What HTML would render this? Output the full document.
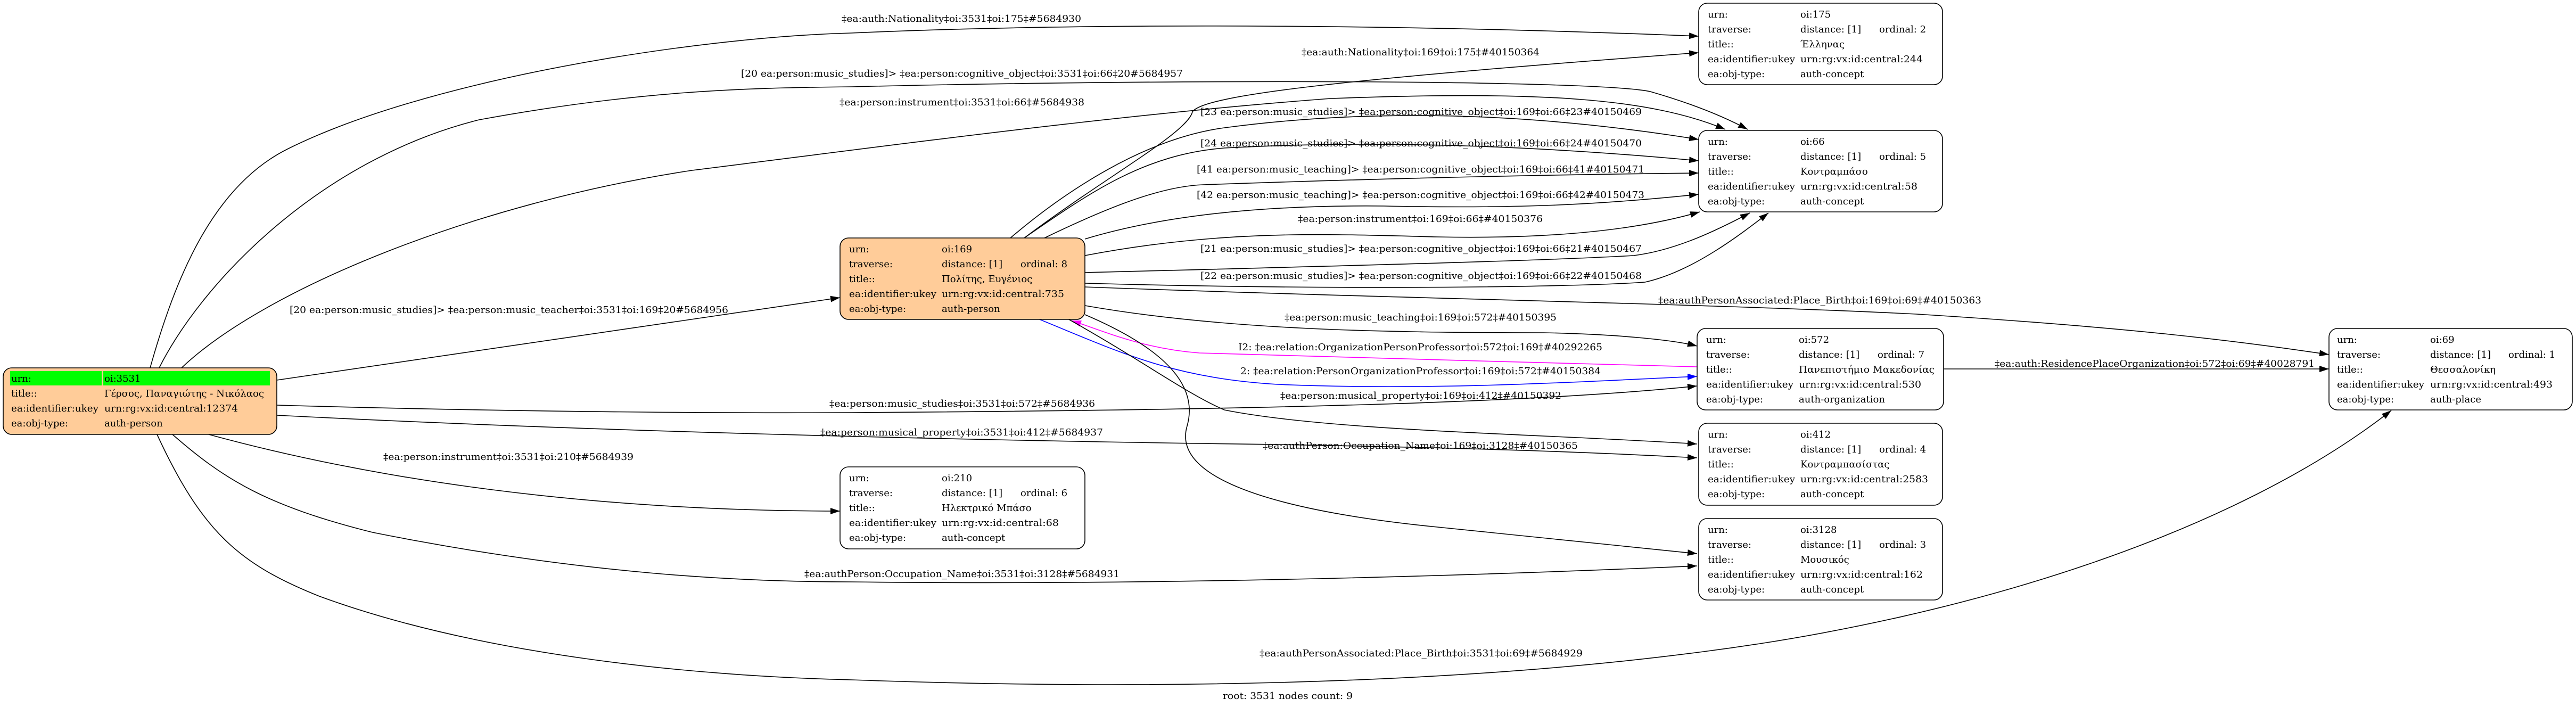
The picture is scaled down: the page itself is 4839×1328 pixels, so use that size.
<!DOCTYPE html>
<html><head><meta charset="utf-8"><style>
html,body{margin:0;padding:0;background:#fff;}
svg{display:block;}
text{font-family:"DejaVu Serif","Liberation Serif",serif;font-size:18px;fill:#000;}
.e{fill:none;stroke:#000;stroke-width:1.6;}
.n{stroke:#000;stroke-width:1.6;}
</style></head><body>
<svg width="4839" height="1328" viewBox="0 0 4839 1328" xmlns="http://www.w3.org/2000/svg">
<defs>
<marker id="a" markerUnits="userSpaceOnUse" markerWidth="20" markerHeight="14" refX="18" refY="6" orient="auto"><path d="M0,0 L18,6 L0,12 z" fill="#000"/></marker>
<marker id="am" markerUnits="userSpaceOnUse" markerWidth="20" markerHeight="14" refX="18" refY="6" orient="auto"><path d="M0,0 L18,6 L0,12 z" fill="#f0f"/></marker>
<marker id="ab" markerUnits="userSpaceOnUse" markerWidth="20" markerHeight="14" refX="18" refY="6" orient="auto"><path d="M0,0 L18,6 L0,12 z" fill="#00f"/></marker>
</defs>

<!-- edges from 3531 -->
<path class="e" marker-end="url(#a)" d="M282,691 C330,520 400,350 540,280 C800,150 1300,70 1600,62 C2100,40 2700,48 3191,68"/>
<path class="e" marker-end="url(#a)" d="M299,691 C380,530 600,300 900,225 C1200,170 1400,165 1600,163 C2200,148 3000,150 3100,172 C3180,195 3240,220 3283,243"/>
<path class="e" marker-end="url(#a)" d="M341,691 C500,540 900,380 1300,320 C1700,270 2100,215 2500,185 C2900,170 3100,185 3241,243"/>
<path class="e" marker-end="url(#a)" d="M520,714 L1578,559"/>
<path class="e" marker-end="url(#a)" d="M520,761 C1000,775 1400,776 1600,775 C2400,770 2900,755 3188,725"/>
<path class="e" marker-end="url(#a)" d="M520,780 C1200,815 2000,830 2400,835 C2800,842 3000,850 3188,860"/>
<path class="e" marker-end="url(#a)" d="M392,816 C700,900 1100,960 1578,960"/>
<path class="e" marker-end="url(#a)" d="M324,816 C420,900 500,950 700,1000 C1100,1080 1400,1093 1600,1093 C2200,1100 2800,1080 3188,1063"/>
<path class="e" marker-end="url(#a)" d="M295,816 C380,1000 450,1060 600,1120 C900,1230 1300,1270 1600,1277 C2100,1295 2700,1290 3200,1224 C3700,1160 4200,1000 4492,771"/>

<!-- edges from 169 -->
<path class="e" marker-end="url(#a)" d="M1924,447 C2080,330 2230,250 2240,210 C2260,180 2500,150 3191,99"/>
<path class="e" marker-end="url(#a)" d="M1898,447 C2000,360 2150,260 2300,240 C2600,200 2900,215 3191,262"/>
<path class="e" marker-end="url(#a)" d="M1924,447 C2050,360 2150,290 2300,278 C2600,262 2900,275 3191,302"/>
<path class="e" marker-end="url(#a)" d="M1962,447 C2080,390 2180,350 2260,347 C2600,335 2900,328 3191,325"/>
<path class="e" marker-end="url(#a)" d="M2038,449 C2200,400 2400,385 2600,387 C2850,392 3000,385 3191,365"/>
<path class="e" marker-end="url(#a)" d="M2038,480 C2300,430 2500,440 2700,445 C2950,450 3100,425 3193,398"/>
<path class="e" marker-end="url(#a)" d="M2038,512 C2500,500 2900,490 3069,480 C3150,470 3230,430 3287,400"/>
<path class="e" marker-end="url(#a)" d="M2038,532 C2500,545 2950,540 3090,530 C3180,510 3270,440 3322,400"/>
<path class="e" marker-end="url(#a)" d="M2038,539 C2600,560 3200,570 3600,590 C4000,615 4200,640 4375,666"/>
<path class="e" marker-end="url(#a)" d="M2038,574 C2300,620 2600,625 2900,625 C3050,628 3150,640 3188,650"/>
<path class="e" style="stroke:#f0f" marker-end="url(#am)" d="M3188,689 C2900,680 2400,670 2253,663 C2150,655 2080,625 2013,602"/>
<path class="e" style="stroke:#00f" marker-end="url(#ab)" d="M1953,600 C2100,660 2200,710 2400,722 C2700,735 3000,715 3188,707"/>
<path class="e" marker-end="url(#a)" d="M2008,600 C2150,680 2230,740 2300,770 C2500,810 2900,815 3188,834"/>
<path class="e" marker-end="url(#a)" d="M2038,591 C2200,660 2250,730 2230,800 C2200,900 2400,960 2700,990 C2900,1010 3050,1025 3188,1040"/>
<path class="e" marker-end="url(#a)" d="M3651,693 L4375,693"/>

<!-- edge labels -->
<g>
<text x="1581" y="41" textLength="450" lengthAdjust="spacingAndGlyphs">‡ea:auth:Nationality‡oi:3531‡oi:175‡#5684930</text>
<text x="2445" y="104" textLength="447" lengthAdjust="spacingAndGlyphs">‡ea:auth:Nationality‡oi:169‡oi:175‡#40150364</text>
<text x="1392" y="144" textLength="830" lengthAdjust="spacingAndGlyphs">[20 ea:person:music_studies]&gt; ‡ea:person:cognitive_object‡oi:3531‡oi:66‡20#5684957</text>
<text x="1577" y="198" textLength="460" lengthAdjust="spacingAndGlyphs">‡ea:person:instrument‡oi:3531‡oi:66‡#5684938</text>
<text x="2255" y="216" textLength="829" lengthAdjust="spacingAndGlyphs">[23 ea:person:music_studies]&gt; ‡ea:person:cognitive_object‡oi:169‡oi:66‡23#40150469</text>
<text x="2255" y="275" textLength="829" lengthAdjust="spacingAndGlyphs">[24 ea:person:music_studies]&gt; ‡ea:person:cognitive_object‡oi:169‡oi:66‡24#40150470</text>
<text x="2248" y="324" textLength="841" lengthAdjust="spacingAndGlyphs">[41 ea:person:music_teaching]&gt; ‡ea:person:cognitive_object‡oi:169‡oi:66‡41#40150471</text>
<text x="2248" y="372" textLength="841" lengthAdjust="spacingAndGlyphs">[42 ea:person:music_teaching]&gt; ‡ea:person:cognitive_object‡oi:169‡oi:66‡42#40150473</text>
<text x="2438" y="417" textLength="460" lengthAdjust="spacingAndGlyphs">‡ea:person:instrument‡oi:169‡oi:66‡#40150376</text>
<text x="2255" y="473" textLength="829" lengthAdjust="spacingAndGlyphs">[21 ea:person:music_studies]&gt; ‡ea:person:cognitive_object‡oi:169‡oi:66‡21#40150467</text>
<text x="2255" y="524" textLength="829" lengthAdjust="spacingAndGlyphs">[22 ea:person:music_studies]&gt; ‡ea:person:cognitive_object‡oi:169‡oi:66‡22#40150468</text>
<text x="3115" y="570" textLength="607" lengthAdjust="spacingAndGlyphs">‡ea:authPersonAssociated:Place_Birth‡oi:169‡oi:69‡#40150363</text>
<text x="544" y="588" textLength="824" lengthAdjust="spacingAndGlyphs">[20 ea:person:music_studies]&gt; ‡ea:person:music_teacher‡oi:3531‡oi:169‡20#5684956</text>
<text x="2413" y="602" textLength="511" lengthAdjust="spacingAndGlyphs">‡ea:person:music_teaching‡oi:169‡oi:572‡#40150395</text>
<text x="2326" y="658" textLength="684" lengthAdjust="spacingAndGlyphs">I2: ‡ea:relation:OrganizationPersonProfessor‡oi:572‡oi:169‡#40292265</text>
<text x="3747" y="689" textLength="601" lengthAdjust="spacingAndGlyphs">‡ea:auth:ResidencePlaceOrganization‡oi:572‡oi:69‡#40028791</text>
<text x="2330" y="703" textLength="677" lengthAdjust="spacingAndGlyphs">2: ‡ea:relation:PersonOrganizationProfessor‡oi:169‡oi:572‡#40150384</text>
<text x="2405" y="749" textLength="528" lengthAdjust="spacingAndGlyphs">‡ea:person:musical_property‡oi:169‡oi:412‡#40150392</text>
<text x="1558" y="764" textLength="499" lengthAdjust="spacingAndGlyphs">‡ea:person:music_studies‡oi:3531‡oi:572‡#5684936</text>
<text x="1541" y="818" textLength="531" lengthAdjust="spacingAndGlyphs">‡ea:person:musical_property‡oi:3531‡oi:412‡#5684937</text>
<text x="2372" y="843" textLength="592" lengthAdjust="spacingAndGlyphs">‡ea:authPerson:Occupation_Name‡oi:169‡oi:3128‡#40150365</text>
<text x="720" y="864" textLength="470" lengthAdjust="spacingAndGlyphs">‡ea:person:instrument‡oi:3531‡oi:210‡#5684939</text>
<text x="1511" y="1084" textLength="592" lengthAdjust="spacingAndGlyphs">‡ea:authPerson:Occupation_Name‡oi:3531‡oi:3128‡#5684931</text>
<text x="2366" y="1233" textLength="607" lengthAdjust="spacingAndGlyphs">‡ea:authPersonAssociated:Place_Birth‡oi:3531‡oi:69‡#5684929</text>
<text x="2297" y="1313" textLength="244" lengthAdjust="spacingAndGlyphs">root: 3531 nodes count: 9</text>
</g>

<!-- node 3531 -->
<rect class="n" x="6" y="691" width="514" height="125" rx="16" fill="#ffcc99"/>
<rect x="19" y="697" width="172" height="27" fill="#00ff00"/>
<rect x="194" y="697" width="313" height="27" fill="#00ff00"/>
<text x="21" y="717">urn:</text><text x="196" y="717">oi:3531</text>
<text x="21" y="745">title::</text><text x="196" y="745" textLength="300" lengthAdjust="spacingAndGlyphs">Γέρσος, Παναγιώτης - Νικόλαος</text>
<text x="21" y="773" textLength="164" lengthAdjust="spacingAndGlyphs">ea:identifier:ukey</text><text x="196" y="773" textLength="251" lengthAdjust="spacingAndGlyphs">urn:rg:vx:id:central:12374</text>
<text x="21" y="801">ea:obj-type:</text><text x="196" y="801">auth-person</text>

<!-- node 169 -->
<rect class="n" x="1578" y="447" width="460" height="153" rx="16" fill="#ffcc99"/>
<g transform="translate(1578,447)">
<text x="17" y="27">urn:</text><text x="191" y="27">oi:169</text>
<text x="17" y="55">traverse:</text><text x="191" y="55">distance: [1]</text><text x="339" y="55">ordinal: 8</text>
<text x="17" y="83">title::</text><text x="191" y="83">Πολίτης, Ευγένιος</text>
<text x="17" y="111" textLength="164" lengthAdjust="spacingAndGlyphs">ea:identifier:ukey</text><text x="191" y="111" textLength="230" lengthAdjust="spacingAndGlyphs">urn:rg:vx:id:central:735</text>
<text x="17" y="139">ea:obj-type:</text><text x="191" y="139">auth-person</text>
</g>

<!-- node 210 -->
<rect class="n" x="1578" y="877" width="460" height="154" rx="16" fill="#fff"/>
<g transform="translate(1578,877)">
<text x="17" y="27">urn:</text><text x="191" y="27">oi:210</text>
<text x="17" y="55">traverse:</text><text x="191" y="55">distance: [1]</text><text x="339" y="55">ordinal: 6</text>
<text x="17" y="83">title::</text><text x="191" y="83">Ηλεκτρικό Μπάσο</text>
<text x="17" y="111" textLength="164" lengthAdjust="spacingAndGlyphs">ea:identifier:ukey</text><text x="191" y="111" textLength="220" lengthAdjust="spacingAndGlyphs">urn:rg:vx:id:central:68</text>
<text x="17" y="139">ea:obj-type:</text><text x="191" y="139">auth-concept</text>
</g>

<!-- node 175 -->
<rect class="n" x="3191" y="6" width="458" height="153" rx="16" fill="#fff"/>
<g transform="translate(3191,6)">
<text x="17" y="27">urn:</text><text x="191" y="27">oi:175</text>
<text x="17" y="55">traverse:</text><text x="191" y="55">distance: [1]</text><text x="339" y="55">ordinal: 2</text>
<text x="17" y="83">title::</text><text x="191" y="83">Έλληνας</text>
<text x="17" y="111" textLength="164" lengthAdjust="spacingAndGlyphs">ea:identifier:ukey</text><text x="191" y="111" textLength="230" lengthAdjust="spacingAndGlyphs">urn:rg:vx:id:central:244</text>
<text x="17" y="139">ea:obj-type:</text><text x="191" y="139">auth-concept</text>
</g>

<!-- node 66 -->
<rect class="n" x="3191" y="245" width="458" height="153" rx="16" fill="#fff"/>
<g transform="translate(3191,245)">
<text x="17" y="27">urn:</text><text x="191" y="27">oi:66</text>
<text x="17" y="55">traverse:</text><text x="191" y="55">distance: [1]</text><text x="339" y="55">ordinal: 5</text>
<text x="17" y="83">title::</text><text x="191" y="83">Κοντραμπάσο</text>
<text x="17" y="111" textLength="164" lengthAdjust="spacingAndGlyphs">ea:identifier:ukey</text><text x="191" y="111" textLength="220" lengthAdjust="spacingAndGlyphs">urn:rg:vx:id:central:58</text>
<text x="17" y="139">ea:obj-type:</text><text x="191" y="139">auth-concept</text>
</g>

<!-- node 572 -->
<rect class="n" x="3188" y="617" width="463" height="153" rx="16" fill="#fff"/>
<g transform="translate(3188,617)">
<text x="17" y="27">urn:</text><text x="191" y="27">oi:572</text>
<text x="17" y="55">traverse:</text><text x="191" y="55">distance: [1]</text><text x="339" y="55">ordinal: 7</text>
<text x="17" y="83">title::</text><text x="191" y="83" textLength="255" lengthAdjust="spacingAndGlyphs">Πανεπιστήμιο Μακεδονίας</text>
<text x="17" y="111" textLength="164" lengthAdjust="spacingAndGlyphs">ea:identifier:ukey</text><text x="191" y="111" textLength="230" lengthAdjust="spacingAndGlyphs">urn:rg:vx:id:central:530</text>
<text x="17" y="139">ea:obj-type:</text><text x="191" y="139">auth-organization</text>
</g>

<!-- node 412 -->
<rect class="n" x="3191" y="795" width="458" height="154" rx="16" fill="#fff"/>
<g transform="translate(3191,795)">
<text x="17" y="27">urn:</text><text x="191" y="27">oi:412</text>
<text x="17" y="55">traverse:</text><text x="191" y="55">distance: [1]</text><text x="339" y="55">ordinal: 4</text>
<text x="17" y="83">title::</text><text x="191" y="83">Κοντραμπασίστας</text>
<text x="17" y="111" textLength="164" lengthAdjust="spacingAndGlyphs">ea:identifier:ukey</text><text x="191" y="111" textLength="240" lengthAdjust="spacingAndGlyphs">urn:rg:vx:id:central:2583</text>
<text x="17" y="139">ea:obj-type:</text><text x="191" y="139">auth-concept</text>
</g>

<!-- node 3128 -->
<rect class="n" x="3191" y="974" width="458" height="153" rx="16" fill="#fff"/>
<g transform="translate(3191,974)">
<text x="17" y="27">urn:</text><text x="191" y="27">oi:3128</text>
<text x="17" y="55">traverse:</text><text x="191" y="55">distance: [1]</text><text x="339" y="55">ordinal: 3</text>
<text x="17" y="83">title::</text><text x="191" y="83">Μουσικός</text>
<text x="17" y="111" textLength="164" lengthAdjust="spacingAndGlyphs">ea:identifier:ukey</text><text x="191" y="111" textLength="230" lengthAdjust="spacingAndGlyphs">urn:rg:vx:id:central:162</text>
<text x="17" y="139">ea:obj-type:</text><text x="191" y="139">auth-concept</text>
</g>

<!-- node 69 -->
<rect class="n" x="4375" y="617" width="457" height="153" rx="16" fill="#fff"/>
<g transform="translate(4375,617)">
<text x="15" y="27">urn:</text><text x="190" y="27">oi:69</text>
<text x="15" y="55">traverse:</text><text x="190" y="55">distance: [1]</text><text x="337" y="55">ordinal: 1</text>
<text x="15" y="83">title::</text><text x="190" y="83">Θεσσαλονίκη</text>
<text x="15" y="111" textLength="164" lengthAdjust="spacingAndGlyphs">ea:identifier:ukey</text><text x="190" y="111" textLength="230" lengthAdjust="spacingAndGlyphs">urn:rg:vx:id:central:493</text>
<text x="15" y="139">ea:obj-type:</text><text x="190" y="139">auth-place</text>
</g>
</svg>
</body></html>
